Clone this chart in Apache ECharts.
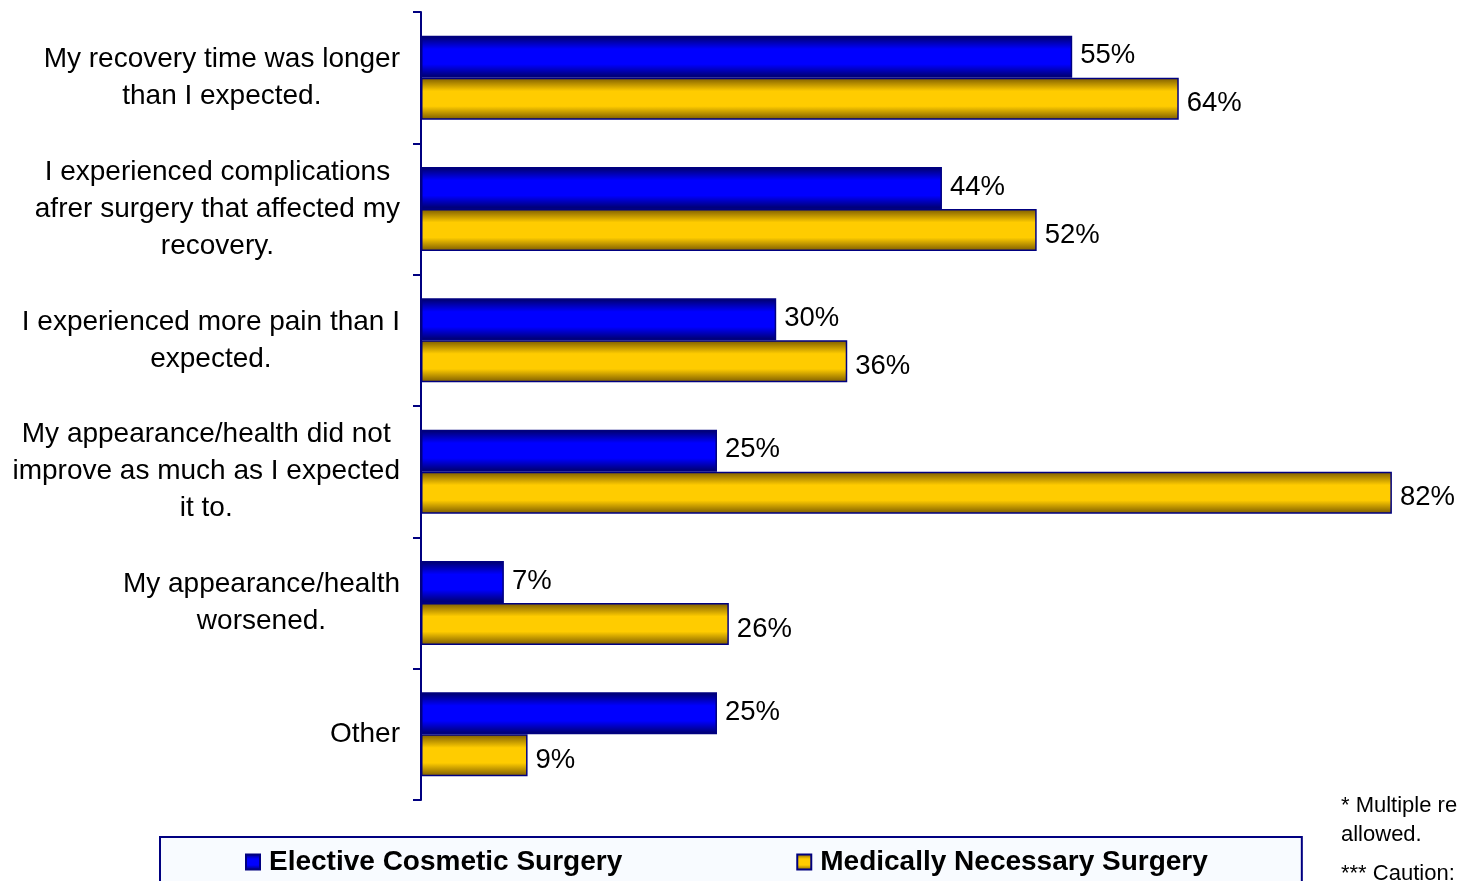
<!DOCTYPE html>
<html>
<head>
<meta charset="utf-8">
<script src="https://cdn.jsdelivr.net/npm/echarts@6/dist/echarts.min.js"></script>
<style>
html,body{margin:0;padding:0;background:#fff;}
#chart{width:1457px;height:881px;}
</style>
</head>
<body>
<div id="chart"></div>
<script>
const categories = [
  "My recovery time was longer\nthan I expected.",
  "I experienced complications\nafrer surgery that affected my\nrecovery.",
  "I experienced more pain than I\nexpected.",
  "My appearance/health did not\nimprove as much as I expected\nit to.",
  "My appearance/health\nworsened.",
  "Other"
];
const electiveCosmetic = [55, 44, 30, 25, 7, 25];
const medicallyNecessary = [64, 52, 36, 82, 26, 9];
const seriesNames = ["Elective Cosmetic Surgery", "Medically Necessary Surgery"];
const footnote1 = "* Multiple responses\nallowed.";
const footnote2 = "*** Caution: small base";

const FONT = "'Liberation Sans', Arial, sans-serif";
const blueGrad = new echarts.graphic.LinearGradient(0, 0, 0, 1, [
  {offset: 0, color: '#000066'},
  {offset: 0.32, color: '#0000ff'},
  {offset: 0.68, color: '#0000ff'},
  {offset: 1, color: '#000066'}
]);
const goldGrad = new echarts.graphic.LinearGradient(0, 0, 0, 1, [
  {offset: 0, color: '#7a5a00'},
  {offset: 0.32, color: '#ffcc00'},
  {offset: 0.68, color: '#ffcc00'},
  {offset: 1, color: '#7a5a00'}
]);

const chart = echarts.init(document.getElementById('chart'));
chart.setOption({
  animation: false,
  backgroundColor: '#ffffff',
  textStyle: {fontFamily: FONT},
  title: [
    {text: footnote1, left: 1336, top: 786,
     textStyle: {fontFamily: FONT, fontSize: 22, fontWeight: 'normal', color: '#000', lineHeight: 29}},
    {text: footnote2, left: 1336, top: 858,
     textStyle: {fontFamily: FONT, fontSize: 22, fontWeight: 'normal', color: '#000'}}
  ],
  legend: {
    data: seriesNames,
    left: 160,
    top: 837,
    orient: 'horizontal',
    itemGap: 174,
    itemWidth: 14,
    itemHeight: 15,
    padding: [11, 94, 30, 85],
    backgroundColor: '#f8fbff',
    borderColor: '#000080',
    borderWidth: 2,
    borderRadius: 0,
    icon: 'rect',
    textStyle: {fontFamily: FONT, fontSize: 28, fontWeight: 'bold', color: '#000', padding: [0, 0, 0, 4]}
  },
  grid: {left: 421, right: 0, top: 12, bottom: 81, containLabel: false},
  xAxis: {
    type: 'value', min: 0, max: 87.5,
    show: false
  },
  yAxis: {
    type: 'category',
    data: categories,
    inverse: true,
    axisLine: {show: true, lineStyle: {color: '#000080', width: 2}},
    axisTick: {show: true, length: 8, lineStyle: {color: '#000080', width: 2}},
    axisLabel: {
      margin: 21,
      color: '#000',
      fontFamily: FONT,
      fontSize: 28,
      lineHeight: 37,
      formatter: function (v) {
        return v.split('\n').map(function (l) { return '{c|' + l + '}'; }).join('\n');
      },
      rich: {c: {align: 'center', fontSize: 28, lineHeight: 37, fontFamily: FONT, color: '#000'}}
    },
    splitLine: {show: false}
  },
  series: [
    {
      name: seriesNames[0], type: 'bar', data: electiveCosmetic,
      barGap: '0%', barCategoryGap: '36%',
      itemStyle: {color: blueGrad, borderColor: '#000080', borderWidth: 1.5},
      label: {show: true, position: 'right', distance: 8, offset: [0, -1], formatter: '{c}%',
              fontFamily: FONT, fontSize: 27.5, color: '#000'}
    },
    {
      name: seriesNames[1], type: 'bar', data: medicallyNecessary,
      barGap: '0%', barCategoryGap: '36%',
      itemStyle: {color: goldGrad, borderColor: '#000080', borderWidth: 1.5},
      label: {show: true, position: 'right', distance: 8, offset: [0, 5], formatter: '{c}%',
              fontFamily: FONT, fontSize: 27.5, color: '#000'}
    }
  ]
});
</script>
</body>
</html>
